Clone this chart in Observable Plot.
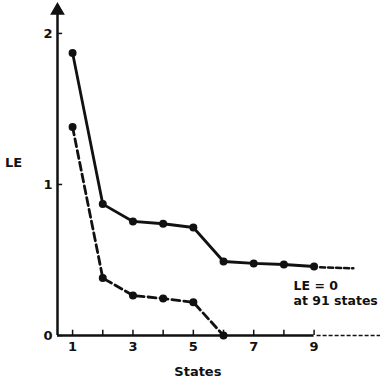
<!DOCTYPE html>
<html>
<head>
<meta charset="utf-8">
<script src="https://cdn.jsdelivr.net/npm/d3@7"></script>
<script src="https://cdn.jsdelivr.net/npm/@observablehq/plot@0.6"></script>
<style>
  html, body { margin: 0; padding: 0; background: #fff; }
  svg { display: block; }
</style>
</head>
<body>
<div id="chart"></div>
<script>
// States on the x axis
const states = [1, 2, 3, 4, 5, 6, 7, 8, 9];
// Upper (solid) curve of LE values
const leSolid = [1.87, 0.87, 0.755, 0.74, 0.715, 0.49, 0.477, 0.47, 0.457];
// Lower (dashed) curve of LE values, reaching 0 at state 6
const dashedStates = [1, 2, 3, 4, 5, 6];
const leDashed = [1.38, 0.38, 0.265, 0.245, 0.22, 0];
// Continuation of the solid curve beyond state 9
const solidTailStates = [9.2, 10.3];
const solidTailLE = [0.452, 0.445];
// Axis ticks and labels
const xTicks = [1, 2, 3, 4, 5, 6, 7, 8, 9];
const xTickLabels = [1, 3, 5, 7, 9];
const yTicks = [0, 1, 2];
const xDomain = [0.5, 11.2];
const yDomain = [0, 2.185];
const xAxisSolidEnd = 9;
const annotation = "LE = 0\nat 91 states";

const solid = states.map((s, i) => ({state: s, le: leSolid[i]}));
const dashed = dashedStates.map((s, i) => ({state: s, le: leDashed[i]}));
const tail = solidTailStates.map((s, i) => ({state: s, le: solidTailLE[i]}));

const ink = "#111";
const font = "DejaVu Sans, sans-serif";

// tick lengths expressed in data units (about 5 px)
const xTickLen = 0.035;
const yTickLen = 0.17;

const chart = Plot.plot({
  width: 384,
  height: 380,
  marginLeft: 57,
  marginRight: 4,
  marginTop: 5,
  marginBottom: 45,
  style: {fontFamily: font, fontSize: "12px", fontWeight: "bold", color: ink, background: "#fff"},
  x: {domain: xDomain},
  y: {domain: yDomain},
  marks: [
    // x axis baseline: solid up to 9, then dashed continuation
    Plot.ruleY([0], {x1: xDomain[0], x2: xAxisSolidEnd, stroke: ink, strokeWidth: 2.5}),
    Plot.ruleY([0], {x1: xAxisSolidEnd + 0.1, x2: xDomain[1], stroke: ink, strokeWidth: 1.5, strokeDasharray: "4,2"}),
    // y axis line with arrow head
    Plot.ruleX([xDomain[0]], {y1: 0, y2: yDomain[1] - 0.02, stroke: ink, strokeWidth: 2.5}),
    Plot.dot([{x: xDomain[0], y: yDomain[1]}], {x: "x", y: "y", symbol: "triangle", r: 4.5, fill: ink, stroke: ink, dy: 5}),
    // x axis ticks (upward) and labels
    Plot.ruleX(xTicks, {x: d => d, y1: 0, y2: xTickLen, stroke: ink, strokeWidth: 1.5}),
    Plot.axisX({ticks: xTickLabels, tickSize: 0, tickPadding: 6, tickFormat: d => String(d), fontSize: 13, fill: ink, label: null}),
    // y axis ticks (rightward) and labels
    Plot.ruleY(yTicks, {y: d => d, x1: xDomain[0], x2: xDomain[0] + yTickLen, stroke: ink, strokeWidth: 1.5}),
    Plot.axisY({ticks: yTicks, tickSize: 0, tickPadding: 5, tickFormat: d => String(d), fontSize: 13, fill: ink, label: null}),
    // Curves
    Plot.line(solid, {x: "state", y: "le", stroke: ink, strokeWidth: 2.8}),
    Plot.dot(solid, {x: "state", y: "le", r: 4, fill: ink, stroke: "none"}),
    Plot.line(tail, {x: "state", y: "le", stroke: ink, strokeWidth: 2.5, strokeDasharray: "5,3"}),
    Plot.line(dashed, {x: "state", y: "le", stroke: ink, strokeWidth: 2.8, strokeDasharray: "8,4"}),
    Plot.dot(dashed, {x: "state", y: "le", r: 4, fill: ink, stroke: "none"}),
    // Axis titles
    Plot.text(["LE"], {x: xDomain[0], y: 1.14, dx: -44, text: d => d, fontSize: 13, fill: ink, textAnchor: "middle"}),
    Plot.text(["States"], {x: 5.15, frameAnchor: "bottom", dy: 40, text: d => d, fontSize: 13, fill: ink, textAnchor: "middle"}),
    // Annotation
    Plot.text([annotation], {x: 8.32, y: 0.37, text: d => d, fontSize: 12.5, fill: ink, textAnchor: "start", lineAnchor: "top", lineHeight: 1.2})
  ]
});
document.getElementById("chart").append(chart);
</script>
</body>
</html>
